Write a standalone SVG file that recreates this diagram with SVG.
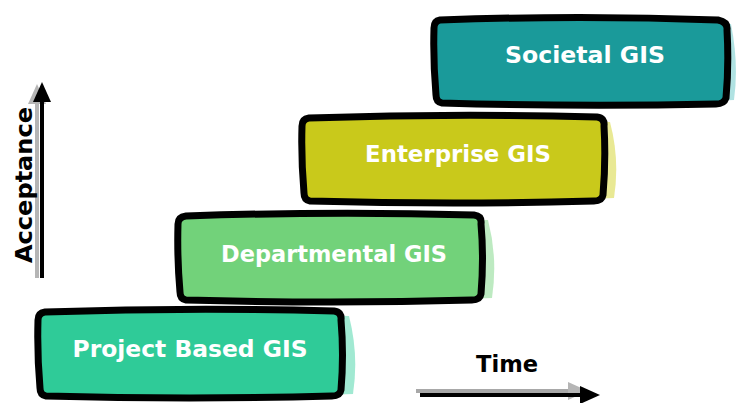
<svg xmlns="http://www.w3.org/2000/svg" width="736" height="403" viewBox="0 0 736 403">
<style>
.box{stroke:#000;stroke-width:7;stroke-linejoin:round;stroke-linecap:round}
.lbl{font-family:"DejaVu Sans",Verdana,sans-serif;font-weight:bold;font-size:23px;fill:#fff;text-anchor:middle}
.axis{font-family:"DejaVu Sans",Verdana,sans-serif;font-weight:bold;font-size:23px;fill:#000;text-anchor:middle}
</style>
<defs>
<marker id="ah" markerWidth="5" markerHeight="4.5" refX="3" refY="2.25" orient="auto" markerUnits="strokeWidth">
<path d="M0,0 L5,2.25 L0,4.5 Z" fill="#000"/>
</marker>
<marker id="ahg" markerWidth="5" markerHeight="4.5" refX="3" refY="2.25" orient="auto" markerUnits="strokeWidth">
<path d="M0,0 L5,2.25 L0,4.5 Z" fill="#b5b5b5"/>
</marker>
</defs>
<rect width="736" height="403" fill="#fff"/>

<g id="societal">
<path d="M446,26 Q600,20 725,24 Q733,64 728,100 Q600,106 448,104 Q433,70 446,26 Z" fill="#61c6c6" opacity="0.5" transform="translate(6,0)"/>
<path class="box" d="M440,20 Q580,15 718,20 Q728,22 727,30 Q729,65 726,98 Q724,104 716,104 Q580,107 442,103 Q436,102 436,95 Q433,60 434,28 Q434,21 440,20 Z" fill="#1a9a9a"/>
<text class="lbl" x="585" y="63" textLength="160" lengthAdjust="spacingAndGlyphs">Societal GIS</text>
</g>

<g id="enterprise">
<path d="M316,124 Q460,118 602,122 Q612,160 606,198 Q460,204 318,202 Q306,160 316,124 Z" fill="#d4d42a" opacity="0.5" transform="translate(8,0)"/>
<path class="box" d="M309,118 Q455,113 597,117 Q605,118 604,126 Q606,160 603,195 Q602,201 594,201 Q455,205 310,201 Q304,200 304,193 Q301,158 302,126 Q302,119 309,118 Z" fill="#c9c91b"/>
<text class="lbl" x="458" y="162" textLength="186" lengthAdjust="spacingAndGlyphs">Enterprise GIS</text>
</g>

<g id="departmental">
<path d="M192,222 Q340,216 480,220 Q490,258 484,298 Q340,304 194,300 Q182,258 192,222 Z" fill="#7cd684" opacity="0.5" transform="translate(8,0)"/>
<path class="box" d="M186,216 Q333,211 474,215 Q482,216 481,224 Q484,258 481,294 Q480,300 472,300 Q333,304 186,300 Q180,299 180,292 Q177,258 178,224 Q178,217 186,216 Z" fill="#72d27a"/>
<text class="lbl" x="334" y="262" textLength="226" lengthAdjust="spacingAndGlyphs">Departmental GIS</text>
</g>

<g id="project">
<path d="M52,318 Q200,312 340,316 Q350,355 344,394 Q200,400 54,396 Q42,355 52,318 Z" fill="#44d3a6" opacity="0.5" transform="translate(9,0)"/>
<path class="box" d="M45,312 Q190,307 334,311 Q342,312 341,320 Q344,355 341,390 Q340,396 332,396 Q190,400 46,396 Q40,395 40,388 Q37,354 38,320 Q38,313 45,312 Z" fill="#2fcb98"/>
<text class="lbl" x="190" y="357" textLength="235" lengthAdjust="spacingAndGlyphs">Project Based GIS</text>
</g>

<g id="connectors">
<line x1="37" y1="278" x2="37" y2="92" stroke="#b5b5b5" stroke-width="4" marker-end="url(#ahg)"/>
<line x1="42" y1="278" x2="42" y2="90" stroke="#000" stroke-width="4" marker-end="url(#ah)"/>
<line x1="416" y1="391" x2="580" y2="391" stroke="#a8a8a8" stroke-width="4" marker-end="url(#ahg)"/>
<line x1="420" y1="395" x2="592" y2="395" stroke="#000" stroke-width="4" marker-end="url(#ah)"/>
</g>

<text class="axis" transform="translate(32,185) rotate(-90)" textLength="156" lengthAdjust="spacingAndGlyphs">Acceptance</text>
<text class="axis" x="507" y="372" textLength="62" lengthAdjust="spacingAndGlyphs">Time</text>
</svg>
